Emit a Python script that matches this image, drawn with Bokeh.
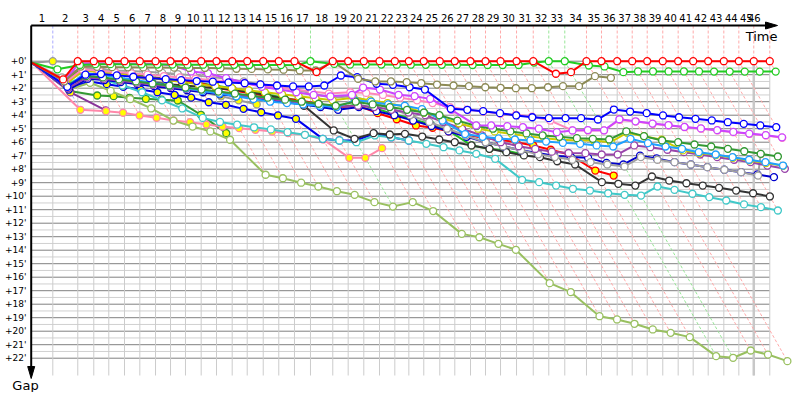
from bokeh.plotting import figure
from bokeh.models import Range1d
from bokeh.core.properties import value
from bokeh.embed import file_html
from bokeh.resources import INLINE

# ---------------- data ----------------
# leader's cumulative race time (minutes) at the end of lap 0..46
LAP_TIME = [0.00, 2.82, 6.08, 8.17, 10.13, 12.18, 14.18, 16.23, 18.19, 20.14, 22.19,
            24.19, 26.24, 28.20, 30.29, 32.32, 34.37, 36.46, 39.37, 41.38, 43.42,
            45.47, 47.47, 49.30, 51.25, 53.34, 55.30, 57.35, 59.31, 61.27, 63.36,
            65.54, 67.57, 69.66, 72.49, 74.45, 76.50, 78.46, 80.42, 82.45, 84.46,
            86.42, 88.38, 90.42, 92.38, 94.33, 96.42]
LAP_LABELS = [str(k) for k in range(1, 47)]
GREEN_LAPS = [17, 32, 33]
BLUE_LAPS = [1]
GAP_TICKS = list(range(0, 23))
GAP_LABELS = ["+%d'" % m for m in GAP_TICKS]

# gap to leader (minutes) per lap, lap 0 first
RED = [0.12, 1.35, 0, 0, 0, 0, 0, 0, 0, 0, 0, 0, 0, 0, 0, 0, 0, 0.80, 0, 0, 0, 0, 0, 0, 0,
       0, 0, 0, 0, 0, 0, 0, 0.93, 0.81, 0, 0, 0, 0, 0, 0, 0, 0, 0, 0, 0, 0, 0]
GREEN = [0.12, 0.60, 0.28, 0.22, 0.22, 0.23, 0.24, 0.25, 0.25, 0.26, 0.26, 0.27, 0.27, 0.28,
         0.28, 0.29, 0.30, 0.00, 0.20, 0.25, 0.25, 0.25, 0.26, 0.26, 0.27, 0.27, 0.27, 0.28,
         0.28, 0.28, 0.28, 0.10, 0.00, 0.00, 0.32, 0.39, 0.81, 0.76, 0.76, 0.76, 0.76, 0.76,
         0.77, 0.77, 0.77, 0.77, 0.77]
OLIVE = [0.12, 1.50, 0.40, 0.42, 0.44, 0.45, 0.46, 0.47, 0.48, 0.50, 0.50, 0.52, 0.56, 0.57,
         0.61, 0.63, 0.69, 0.69, 0.05, 1.30, 1.50, 1.50, 1.55, 1.63, 1.73, 1.80, 1.85, 1.93,
         1.97, 2.00, 2.00, 1.93, 1.85, 1.85, 1.11, 1.23]
BLUE = [0.12, 1.90, 1.00, 0.95, 1.05, 1.15, 1.25, 1.33, 1.40, 1.47, 1.52, 1.57, 1.63, 1.72,
        1.80, 1.87, 1.87, 1.80, 1.06, 1.18, 1.67, 1.75, 1.93, 2.10, 3.53, 3.60, 3.70, 3.85,
        4.02, 4.15, 4.22, 4.22, 4.22, 4.32, 3.58, 3.73, 3.85, 4.02, 4.15, 4.27, 4.39, 4.52,
        4.64, 4.76, 4.89]
VIOLET = [0.12, 1.50, 0.15, 0.15, 0.17, 0.18, 0.20, 0.20, 0.32, 0.76, 0.89, 1.25, 1.60, 1.90,
          2.10, 2.30, 2.50, 2.60, 2.50, 1.95, 2.10, 2.49, 2.59, 2.79, 3.60, 4.76, 4.76, 4.81,
          4.89, 5.00, 5.26, 5.13, 5.10, 5.12, 4.30, 4.45, 4.62, 4.74, 4.87, 4.98, 5.11, 5.24,
          5.36, 5.48, 5.64]
PINK = [0.12, 1.60, 0.60, 0.70, 0.80, 0.90, 1.00, 1.10, 1.20, 1.30, 1.40, 1.50, 1.65, 1.80,
        1.95, 2.10, 2.25, 2.40, 2.30, 2.35, 2.50, 2.70, 2.90, 3.10, 3.40, 3.60, 3.73, 3.90,
        3.97, 4.10, 4.40, 5.13, 5.13, 5.13, 4.34, 4.47, 4.64, 4.76, 4.89, 5.00, 5.13, 5.26,
        5.38, 5.50, 5.67]
DKGREEN = [0.12, 1.80, 1.10, 1.20, 1.35, 1.50, 1.65, 1.80, 1.95, 2.10, 2.25, 2.40, 2.55, 2.70,
           2.85, 3.00, 3.15, 3.30, 3.00, 3.20, 3.40, 3.60, 3.80, 4.00, 4.40, 4.80, 5.00, 5.20,
           5.35, 5.50, 5.60, 5.70, 5.75, 5.80, 5.20, 5.55, 5.87, 6.00, 6.17, 6.32, 6.49, 6.67,
           6.86, 7.06]
SKYBLUE = [0.12, 1.90, 0.90, 1.00, 1.20, 1.40, 1.60, 1.80, 2.00, 2.20, 2.40, 2.60, 2.80, 3.00,
           3.10, 3.20, 3.30, 3.40, 2.90, 3.00, 3.20, 3.30, 3.55, 4.40, 5.40, 5.60, 5.72, 5.80,
           5.87, 5.95, 6.05, 6.12, 6.24, 6.32, 5.75, 6.07, 6.32, 6.49, 6.74, 6.91, 7.11, 7.30,
           7.48, 7.73]
YELLOW = [0.12, 1.70, 0.70, 0.80, 0.95, 1.10, 1.25, 1.40, 1.55, 1.70, 1.85, 2.00, 2.15, 2.30,
          2.45, 2.60, 2.75, 2.90, 2.70, 2.90, 3.10, 3.40, 3.80, 4.20, 4.60, 5.00, 5.20, 5.40,
          5.55, 5.70, 5.82, 5.87, 5.87, 6.00, 5.30, 5.56, 5.82, 6.61, 6.80, 6.95, 7.15, 7.35,
          7.55, 7.75]
PURPLE = [0.12, 2.00, 1.20, 1.30, 1.45, 1.60, 1.75, 1.90, 2.05, 2.20, 2.35, 2.50, 2.65, 2.80,
          2.95, 3.10, 3.25, 3.40, 3.30, 3.40, 3.60, 3.80, 4.00, 4.50, 5.00, 5.50, 6.00, 6.30,
          6.50, 6.70, 6.80, 6.81, 6.91, 6.91, 6.24, 6.37, 6.56, 6.74, 6.91, 7.11, 7.30, 7.48,
          7.73, 7.97]
GRAY = [0.12, 1.20, 0.50, 0.60, 0.68, 0.72, 0.78, 0.85, 0.95, 1.05, 1.15, 1.30, 1.50, 1.70,
        1.90, 2.10, 2.40, 2.70, 2.60, 3.00, 3.50, 4.00, 4.50, 5.00, 5.50, 6.00, 6.30, 6.60,
        6.90, 7.10, 7.30, 7.48, 7.65, 7.80, 7.11, 7.30, 7.48, 7.65, 7.85, 8.04, 8.22, 8.47,
        6.86]
DKBLUE = [0.12, 2.10, 1.30, 1.40, 1.55, 1.70, 1.85, 2.00, 2.15, 2.30, 2.45, 2.60, 2.75, 2.90,
          3.05, 3.20, 3.40, 3.60, 3.40, 3.70, 4.00, 4.40, 4.80, 5.20, 5.60, 6.00, 6.30, 6.60,
          6.80, 7.00, 7.10, 7.16, 7.53, 7.65, 7.00, 7.20, 7.48, 7.65, 7.85, 8.04, 8.22, 8.39,
          8.59]
BLACK = [0.12, 1.80, 1.20, 1.30, 1.40, 1.50, 1.60, 1.70, 1.80, 1.90, 2.00, 2.10, 2.30, 2.50,
         2.80, 3.30, 5.13, 5.75, 5.33, 5.43, 5.38, 5.58, 5.80, 6.00, 6.24, 6.49, 6.74, 6.98,
         7.11, 7.41, 7.65, 8.96, 9.08, 9.21, 8.54, 8.84, 9.04, 9.21, 9.38, 9.58, 9.78, 10.02]
TEAL = [0.12, 1.70, 1.10, 1.40, 1.80, 2.30, 2.90, 3.50, 4.20, 4.50, 4.70, 4.90, 5.05, 5.26,
        5.45, 5.75, 5.87, 6.00, 5.50, 5.63, 5.87, 6.12, 6.37, 6.61, 6.86, 7.23, 8.79, 8.96,
        9.21, 9.45, 9.58, 9.78, 9.90, 9.95, 9.28, 9.53, 9.82, 10.07, 10.32, 10.61, 10.81, 11.06]
LTGREEN = [0.12, 2.10, 1.60, 2.20, 2.80, 3.50, 4.40, 4.84, 5.20, 5.82, 8.41, 8.67, 9.00, 9.28,
           9.63, 9.90, 10.44, 10.77, 10.44, 11.10, 12.79, 13.04, 13.53, 13.97, 16.44, 17.11,
           18.89, 19.13, 19.45, 19.87, 20.12, 20.44, 21.85, 21.97, 21.43, 21.73, 22.22]
RED_Y = [0.12, 1.60, 0.60, 0.80, 0.95, 1.10, 1.20, 1.35, 1.50, 1.56, 1.97, 2.17, 2.37, 2.59,
         2.79, 2.91, 3.16, 3.41, 3.30, 3.85, 4.30, 4.76, 4.93, 5.19, 5.45, 5.67, 5.82, 6.00,
         6.24, 6.56, 6.91, 8.10, 8.47]
BLUE_Y = [0.12, 2.00, 1.50, 1.70, 1.90, 2.10, 2.30, 2.50, 2.70, 3.04, 3.23, 3.53, 3.78, 4.02,
          4.27, 5.75, 5.87, 5.87, 5.38, 5.63, 5.87]
PINK_Y = [0.12, 3.60, 3.70, 3.82, 4.02, 4.19, 4.39, 4.52, 4.69, 4.84, 4.96, 5.08, 5.21, 5.33,
          5.45, 5.80, 7.16, 7.16, 6.44]
GREEN_Y = [0.12, 1.40, 0.55, 0.70, 0.85, 1.00, 1.15, 1.30, 1.45, 1.60, 1.80, 2.00, 2.20, 2.45,
           2.70, 2.95, 3.20, 3.45, 3.20, 3.50, 3.90, 4.27, 4.69, 5.13, 6.24, 6.49, 6.61, 6.91]
PURPLE_Y = [0.12, 2.31, 3.65]
DKGREEN_Y = [0.12, 2.20, 2.54, 2.59, 2.71, 2.79, 2.85, 2.91, 3.97, 5.33]
GRAY_Y = [0.12, 0.00, 0.10, 0.44, 0.81, 1.13, 1.43, 1.70, 2.00, 2.30, 2.60, 2.90, 3.20]

# (gaps, line colour, marker fill), listed from front-most to back-most
SERIES = [
    (RED, "#ff0000", "white"), (GREEN, "#22cc22", "white"), (OLIVE, "#8c8a55", "white"),
    (BLUE, "#0000ff", "white"), (VIOLET, "#cc44ff", "white"), (PINK, "#ff88bb", "white"),
    (DKGREEN, "#339933", "white"), (SKYBLUE, "#1ea0ff", "white"), (YELLOW, "#cccc00", "white"),
    (PURPLE, "#9944aa", "white"), (GRAY, "#a0a0a0", "white"), (DKBLUE, "#0000cc", "white"),
    (BLACK, "#333333", "white"), (TEAL, "#40c8c8", "white"), (LTGREEN, "#99c060", "white"),
    (RED_Y, "#ff0000", "#ffff00"), (BLUE_Y, "#0000ee", "#ffff00"), (PINK_Y, "#ff88aa", "#ffff00"),
    (GREEN_Y, "#22bb22", "#ffff00"), (PURPLE_Y, "#883399", "#ffff00"),
    (DKGREEN_Y, "#339933", "#ffff00"), (GRAY_Y, "#999999", "#ffff00"),
]

# ---------------- layout ----------------
W, H = 792, 392
PXX, PXY = 7.66, 13.5          # pixels per minute (time axis, gap axis)
OX, OY = 30.7, 60.7            # canvas position of (time 0, gap 0)
X0 = -OX / PXX
Y0 = -OY / PXY
p = figure(width=W, height=H, x_range=Range1d(X0, X0 + W / PXX),
           y_range=Range1d(Y0 + H / PXY, Y0), output_backend="svg",
           toolbar_location=None, min_border=0, x_axis_type=None, y_axis_type=None,
           outline_line_color=None)
p.title.visible = False


def dx(px):
    return px / PXX


def dy(px):
    return px / PXY


def cx(px):
    return (px - OX) / PXX


def cy(py):
    return (py - OY) / PXY


T = LAP_TIME
T_END = T[-1]
AXIS_Y = cy(25)
GRID_BOTTOM = cy(375)
FONT = value("DejaVu Sans")

# horizontal grid
light = [m + 0.5 for m in GAP_TICKS[:-1]]
p.segment([0] * len(light), light, [T_END] * len(light), light, line_color="#d0d0d0", line_width=1)
p.segment([0] * len(GAP_TICKS), GAP_TICKS, [T_END] * len(GAP_TICKS), GAP_TICKS,
          line_color="#808080", line_width=1)
# vertical lap grid
p.segment(T[1:], [0] * 46, T[1:], [GRID_BOTTOM] * 46, line_color="#cccccc", line_width=1)
p.segment([T[45]], [0], [T[45]], [GRID_BOTTOM], line_color="#c8c8c8", line_width=2.5)

# lap marks above the chart and diagonal lap lines
max_gap = {}
for gaps, _, _ in SERIES:
    for k, g in enumerate(gaps):
        if k > 0:
            max_gap[k] = max(max_gap.get(k, 0), g)
for k in range(1, 47):
    col = "#ffaaaa"
    if k in GREEN_LAPS:
        col = "#99e699"
    elif k in BLUE_LAPS:
        col = "#aaaaff"
    g = max_gap.get(k, 0)
    p.line([T[k], T[k]], [AXIS_Y, 0], line_color=col, line_width=1, line_dash="3 2")
    p.line([T[k], T[k] + g], [0, g], line_color=col, line_width=1, line_dash="3 2")

# series
for gaps, col, fill in reversed(SERIES):
    xs = [T[k] + g for k, g in enumerate(gaps)]
    p.line(xs, gaps, line_color=col, line_width=2)
    p.scatter(xs[1:], gaps[1:], size=7, marker="circle", line_color=col, line_width=1.3,
              fill_color=fill)

# axes
x_tip = cx(777)
p.line([0, x_tip - dx(10)], [AXIS_Y, AXIS_Y], line_color="black", line_width=2)
p.patch([x_tip, x_tip - dx(12), x_tip - dx(12)], [AXIS_Y, AXIS_Y - dy(3.5), AXIS_Y + dy(3.5)],
        fill_color="black", line_color="black")
y_tip = cy(378)
p.line([0, 0], [AXIS_Y, y_tip - dy(10)], line_color="black", line_width=2)
p.patch([0, -dx(3.5), dx(3.5)], [y_tip, y_tip - dy(12), y_tip - dy(12)],
        fill_color="black", line_color="black")

# texts (the last lap's label sits over the final two laps, as in the original)
mids = [(T[k - 1] + T[k]) / 2 for k in range(1, 46)] + [(T[44] + T[46]) / 2]
p.text(mids, [cy(17)] * 46, text=LAP_LABELS, text_font=FONT, text_font_size="10px",
       text_align="center", text_baseline="middle", text_color="black")
p.text([cx(26)] * len(GAP_TICKS), GAP_TICKS, text=GAP_LABELS, text_font=FONT,
       text_font_size="9px", text_align="right", text_baseline="middle", text_color="black")
p.text([x_tip], [cy(28)], text=["Time"], text_font=FONT, text_font_size="13px",
       text_align="right", text_baseline="top", text_color="black")
p.text([cx(25)], [cy(385)], text=["Gap"], text_font=FONT,
       text_font_size="13px", text_align="center", text_baseline="middle", text_color="black")

open("out.html", "w").write(file_html(p, INLINE))
